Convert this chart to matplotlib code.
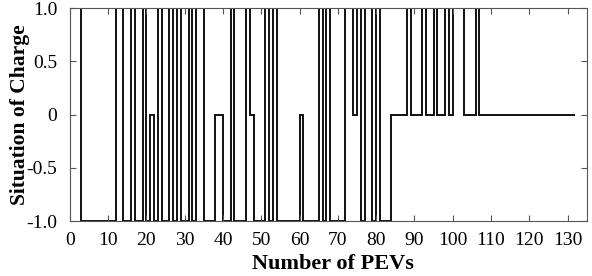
import matplotlib
matplotlib.use("Agg")
import matplotlib.pyplot as plt

# change points (PEV index) and the charge state that starts at each one
edges = [0, 3, 12, 14, 16, 17, 19, 20, 21, 22, 23, 24, 26, 27, 28, 29, 31, 32,
         33, 35, 38, 40, 42, 43, 46, 47, 48, 51, 52, 53, 54, 60, 61, 65, 66,
         67, 68, 72, 74, 75, 76, 77, 79, 80, 81, 84, 88, 89, 92, 93, 95, 96,
         98, 99, 100, 103, 106, 107, 132]
states = [1, -1, 1, -1, 1, -1, 1, -1, 0, -1, 1, -1, 1, -1, 1, -1, 1, -1,
          1, -1, 0, -1, 1, -1, 1, 0, -1, 1, -1, 1, -1, 0, -1, 1, -1,
          1, -1, 1, 0, 1, -1, 1, -1, 1, -1, 0, 1, 0, 1, 0, 1, 0,
          1, 0, 1, 0, 1, 0]

x_ticks = list(range(0, 131, 10))
y_ticks = [-1.0, -0.5, 0.0, 0.5, 1.0]
y_tick_labels = ["-1.0", "-0.5", "0", "0.5", "1.0"]

plt.rcParams["font.family"] = ["Liberation Serif", "DejaVu Serif"]

fig = plt.figure(figsize=(5.92, 2.76), dpi=100)
ax = fig.add_axes([0.118, 0.199, 0.873, 0.772])

ax.stairs(states, edges, baseline=None, color="#111111", linewidth=1.4)

ax.set_xlim(0, 135)
ax.set_ylim(-1, 1)
ax.set_xticks(x_ticks)
ax.set_yticks(y_ticks)
ax.set_yticklabels(y_tick_labels)
ax.tick_params(direction="in", top=True, right=True, labelsize=14,
               length=4, width=0.8, color="#555555")
ax.tick_params(axis="x", pad=8)
ax.tick_params(axis="y", pad=9)
for sp in ax.spines.values():
    sp.set_color("#555555")
    sp.set_linewidth(0.8)

ax.set_xlabel("Number of PEVs", fontsize=16, fontweight="bold")
ax.set_ylabel("Situation of Charge", fontsize=15.5, fontweight="bold")
ax.xaxis.set_label_coords(0.509, -0.155)
ax.yaxis.set_label_coords(-0.078, 0.5)

fig.savefig("out.png", dpi=100)
